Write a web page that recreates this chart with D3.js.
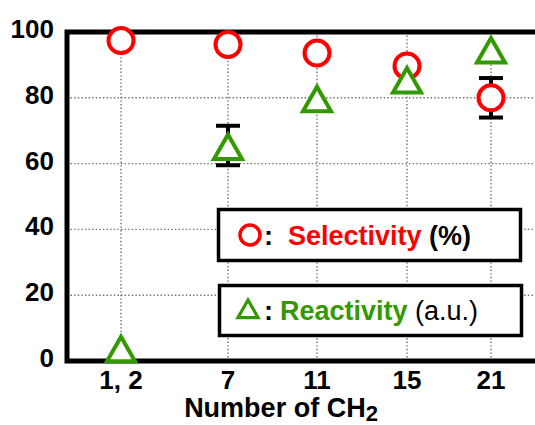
<!DOCTYPE html>
<html>
<head>
<meta charset="utf-8">
<script src="https://cdn.jsdelivr.net/npm/d3@7"></script>
<style>
  body { margin: 0; background: #fff; }
  svg { display: block; font-family: "Liberation Sans", Arial, sans-serif; }
</style>
</head>
<body>
<div id="chart"></div>
<script>
// data
const categories = ["1, 2", "7", "11", "15", "21"];
const selectivity = [97.4, 96.2, 93.6, 89.7, 80];
const selectivityErr = [0, 0, 0, 0, 6];
const reactivity = [4, 65.5, 80, 85.7, 94.8];
const reactivityErr = [0, 6, 0, 0, 0];
const yTicks = [0, 20, 40, 60, 80, 100];

const width = 535, height = 425;
const plot = { left: 67, right: 548, top: 32, bottom: 361 };
const red = "#ff0000", green = "#339900";

const svg = d3.select("#chart").append("svg")
  .attr("width", width)
  .attr("height", height);

const x = d3.scaleOrdinal()
  .domain(categories)
  .range([121, 228, 317, 407, 491]);

const y = d3.scaleLinear()
  .domain([0, 100])
  .range([plot.bottom, plot.top]);

// grid
const grid = svg.append("g").attr("class", "grid");
grid.selectAll(".hgrid")
  .data(yTicks.filter(d => d > 0 && d < 100))
  .enter().append("line")
  .attr("x1", plot.left).attr("x2", plot.right)
  .attr("y1", d => y(d)).attr("y2", d => y(d));
grid.selectAll(".vgrid")
  .data(categories)
  .enter().append("line")
  .attr("x1", d => x(d)).attr("x2", d => x(d))
  .attr("y1", plot.top).attr("y2", plot.bottom);
grid.selectAll("line")
  .attr("stroke", "#6f6f6f")
  .attr("stroke-width", 1.4)
  .attr("stroke-dasharray", "1.4,2.2");

// frame
svg.append("path")
  .attr("d", `M${plot.right},${plot.top}H${plot.left}V${plot.bottom}H${plot.right}`)
  .attr("fill", "none")
  .attr("stroke", "#000")
  .attr("stroke-width", 5);

// y tick labels
svg.append("g").selectAll("text")
  .data(yTicks)
  .enter().append("text")
  .attr("x", 54)
  .attr("y", d => y(d) + 6)
  .attr("text-anchor", "end")
  .attr("font-size", 26)
  .attr("font-weight", "bold")
  .text(d => d);

// x tick labels
svg.append("g").selectAll("text")
  .data(categories)
  .enter().append("text")
  .attr("x", d => x(d))
  .attr("y", 389)
  .attr("text-anchor", "middle")
  .attr("font-size", 26)
  .attr("font-weight", "bold")
  .text(d => d);

// x title
const title = svg.append("text")
  .attr("x", 281)
  .attr("y", 417)
  .attr("text-anchor", "middle")
  .attr("font-size", 27)
  .attr("font-weight", "bold");
title.append("tspan").text("Number of CH");
title.append("tspan").attr("font-size", 22).attr("dy", 4).text("2");

// error bars
function errorBars(vals, errs) {
  const g = svg.append("g");
  vals.forEach((v, i) => {
    if (!errs[i]) return;
    const cx = x(categories[i]);
    const hi = y(v + errs[i]), lo = y(v - errs[i]);
    g.append("line").attr("x1", cx).attr("x2", cx).attr("y1", hi).attr("y2", lo);
    g.append("line").attr("x1", cx - 12).attr("x2", cx + 12).attr("y1", hi).attr("y2", hi);
    g.append("line").attr("x1", cx - 12).attr("x2", cx + 12).attr("y1", lo).attr("y2", lo);
  });
  g.selectAll("line").attr("stroke", "#000").attr("stroke-width", 4);
}
errorBars(selectivity, selectivityErr);
errorBars(reactivity, reactivityErr);

function trianglePath(s) {
  return `M0,${-12.5 * s + 1.5 * s}L${-14 * s},${12 * s + 1.5 * s}L${14 * s},${12 * s + 1.5 * s}Z`;
}

// selectivity circles
svg.append("g").selectAll("circle")
  .data(selectivity)
  .enter().append("circle")
  .attr("cx", (d, i) => x(categories[i]))
  .attr("cy", d => y(d))
  .attr("r", 12.5)
  .attr("fill", "#fff")
  .attr("stroke", red)
  .attr("stroke-width", 4);

// reactivity triangles
svg.append("g").selectAll("path")
  .data(reactivity)
  .enter().append("path")
  .attr("transform", (d, i) => `translate(${x(categories[i])},${y(d)})`)
  .attr("d", trianglePath(1))
  .attr("fill", "#fff")
  .attr("stroke", green)
  .attr("stroke-width", 4);

// legends
const leg1 = svg.append("g");
leg1.append("rect")
  .attr("x", 218.5).attr("y", 209.5).attr("width", 302).attr("height", 51)
  .attr("fill", "#fff").attr("stroke", "#000").attr("stroke-width", 3.5);
leg1.append("circle")
  .attr("cx", 250).attr("cy", 235).attr("r", 10)
  .attr("fill", "none").attr("stroke", red).attr("stroke-width", 3.5);
const t1 = leg1.append("text")
  .attr("x", 264).attr("y", 245)
  .attr("font-size", 27).attr("font-weight", "bold");
t1.append("tspan").text(":");
t1.append("tspan").attr("x", 288).attr("fill", red).text("Selectivity");
t1.append("tspan").text(" (%)");

const leg2 = svg.append("g");
leg2.append("rect")
  .attr("x", 219.5).attr("y", 285.5).attr("width", 302).attr("height", 50)
  .attr("fill", "#fff").attr("stroke", "#000").attr("stroke-width", 3.5);
leg2.append("path")
  .attr("transform", "translate(248,308)")
  .attr("d", trianglePath(0.72))
  .attr("fill", "none").attr("stroke", green).attr("stroke-width", 3.2);
const t2 = leg2.append("text")
  .attr("x", 264).attr("y", 320)
  .attr("font-size", 27).attr("font-weight", "bold");
t2.append("tspan").text(":");
t2.append("tspan").attr("x", 280).attr("fill", green).text("Reactivity");
t2.append("tspan").attr("font-weight", "normal").text(" (a.u.)");
</script>
</body>
</html>
